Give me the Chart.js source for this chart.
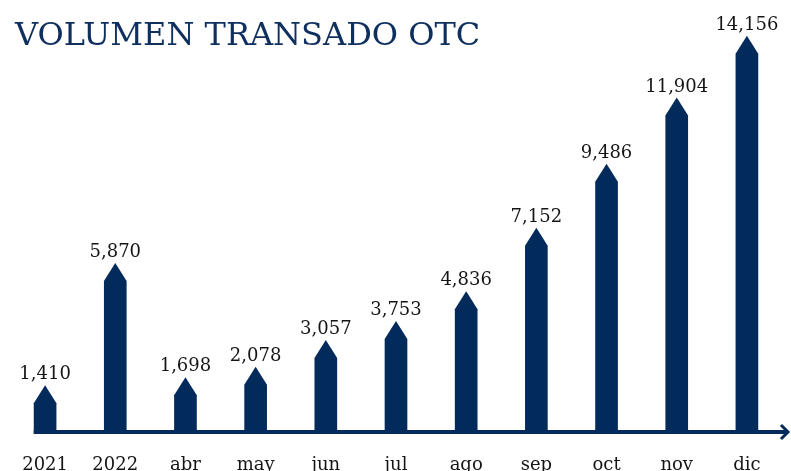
<!DOCTYPE html>
<html>
<head>
<meta charset="utf-8">
<script src="https://cdn.jsdelivr.net/npm/chart.js@4/dist/chart.umd.min.js"></script>
<style>
    html, body { margin: 0; padding: 0; background: #fff; overflow: hidden; }
    #wrap { position: relative; width: 791px; height: 471px; }
    #title {
        position: absolute; left: 15px; top: 18px; margin: 0;
        font: normal 32px/1 'DejaVu Serif', serif; color: #0f2f5f;
        white-space: nowrap;
    }
    canvas { position: absolute; left: 0; top: 0; }
</style>
</head>
<body>
<div id="wrap">
    <canvas id="otc-chart" width="791" height="471"></canvas>
    <h1 id="title">VOLUMEN TRANSADO OTC</h1>
</div>
<script>
// Chart data
const categories = ['2021', '2022', 'abr', 'may', 'jun', 'jul', 'ago', 'sep', 'oct', 'nov', 'dic'];
const volumes = [1410, 5870, 1698, 2078, 3057, 3753, 4836, 7152, 9486, 11904, 14156];

const NAVY = '#022b5c';

// Arrow-shaped bars, value labels, axis line and category labels
const arrowBars = {
    id: 'arrowBars',
    beforeDatasetDraw: function() {
        return false;
    },
    afterDatasetsDraw: function(chart) {
        const ctx = chart.ctx;
        const area = chart.chartArea;
        const bars = chart.getDatasetMeta(0).data;
        const base = area.bottom + 2;

        ctx.save();

        // axis line with open arrow head
        ctx.strokeStyle = NAVY;
        ctx.lineWidth = 4;
        ctx.beginPath();
        ctx.moveTo(bars[0].x - bars[0].width / 2, area.bottom);
        ctx.lineTo(788, area.bottom);
        ctx.stroke();
        ctx.lineWidth = 3;
        ctx.beginPath();
        ctx.moveTo(781, area.bottom - 7);
        ctx.lineTo(788, area.bottom);
        ctx.lineTo(781, area.bottom + 7);
        ctx.stroke();

        ctx.fillStyle = NAVY;
        bars.forEach(bar => {
            const half = bar.width / 2;
            ctx.beginPath();
            ctx.moveTo(bar.x - half, base);
            ctx.lineTo(bar.x - half, bar.y + 18);
            ctx.lineTo(bar.x, bar.y);
            ctx.lineTo(bar.x + half, bar.y + 18);
            ctx.lineTo(bar.x + half, base);
            ctx.closePath();
            ctx.fill();
        });

        ctx.font = '18px "DejaVu Serif"';
        ctx.textAlign = 'center';
        ctx.textBaseline = 'alphabetic';
        ctx.fillStyle = '#151515';
        bars.forEach((bar, i) => {
            ctx.fillText(volumes[i].toLocaleString('en-US'), bar.x, bar.y - 6);
            ctx.fillText(categories[i], bar.x, 470);
        });

        ctx.restore();
    }
};

new Chart(document.getElementById('otc-chart'), {
    type: 'bar',
    data: {
        labels: categories,
        datasets: [{
            data: volumes,
            backgroundColor: NAVY,
            categoryPercentage: 1,
            barPercentage: 0.323
        }]
    },
    options: {
        responsive: false,
        animation: false,
        layout: { padding: { left: 10, right: 9, top: 10, bottom: 39 } },
        scales: {
            x: { display: false },
            y: { display: false, min: -300, max: 15100 }
        },
        plugins: {
            legend: { display: false },
            tooltip: { enabled: false }
        }
    },
    plugins: [arrowBars]
});
</script>
</body>
</html>
